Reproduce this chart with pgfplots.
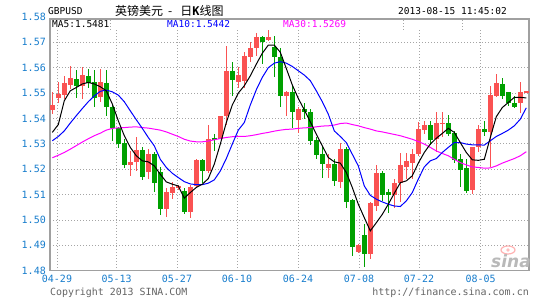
\documentclass[border=0pt]{standalone}
\usepackage{pgfplots}
\pgfplotsset{compat=1.18}
\usepackage{pgfplotstable}
\usepackage{fontspec}
\setmainfont{DejaVu Sans Mono}
\newfontfamily\cjk{Noto Sans CJK SC}
\newfontfamily\sinafont{DejaVu Sans}
\definecolor{upc}{RGB}{250,82,82}
\definecolor{dnc}{RGB}{0,160,0}
\definecolor{tickblue}{RGB}{22,124,204}
\definecolor{framegray}{RGB}{160,160,160}
\definecolor{gridgray}{RGB}{165,165,165}
\definecolor{txtgray}{RGB}{100,100,100}
\definecolor{ma10c}{RGB}{0,0,255}
\definecolor{ma30c}{RGB}{255,0,255}

% up (red) candles: index open high low close
\pgfplotstableread{
x o h l c
0 1.5434 1.5503 1.5417 1.5453
1 1.5479 1.5545 1.5461 1.5495
2 1.5492 1.5568 1.5476 1.5539
3 1.5533 1.5605 1.5518 1.5559
5 1.5529 1.5601 1.5476 1.5571
8 1.5483 1.5595 1.5466 1.5545
13 1.5216 1.5272 1.5174 1.5229
14 1.5229 1.5328 1.5193 1.5275
16 1.5189 1.5279 1.5163 1.5259
19 1.5042 1.5128 1.5012 1.5111
20 1.5105 1.5150 1.5082 1.5130
21 1.5126 1.5138 1.5118 1.5134
23 1.5033 1.5137 1.5008 1.5130
24 1.5134 1.5239 1.5128 1.5237
26 1.5193 1.5376 1.5184 1.5318
28 1.5321 1.5411 1.5318 1.5408
29 1.5408 1.5687 1.5376 1.5588
31 1.5542 1.5601 1.5522 1.5571
32 1.5549 1.5661 1.5522 1.5647
33 1.5641 1.5700 1.5621 1.5676
34 1.5676 1.5737 1.5647 1.5720
36 1.5711 1.5750 1.5707 1.5720
39 1.5489 1.5509 1.5411 1.5503
41 1.5395 1.5447 1.5342 1.5437
46 1.5204 1.5259 1.5167 1.5220
48 1.5150 1.5305 1.5128 1.5279
51 1.4874 1.4904 1.4871 1.4900
53 1.4864 1.5071 1.4845 1.5066
54 1.5055 1.5216 1.5036 1.5187
57 1.5099 1.5163 1.5049 1.5147
58 1.5145 1.5263 1.5071 1.5216
59 1.5209 1.5262 1.5161 1.5233
60 1.5224 1.5279 1.5161 1.5259
61 1.5259 1.5387 1.5253 1.5358
62 1.5355 1.5391 1.5338 1.5374
64 1.5318 1.5426 1.5266 1.5384
65 1.5380 1.5424 1.5325 1.5384
70 1.5118 1.5289 1.5101 1.5286
71 1.5286 1.5376 1.5266 1.5358
73 1.5347 1.5529 1.5207 1.5492
74 1.5489 1.5575 1.5483 1.5539
78 1.5463 1.5542 1.5421 1.5505
79 1.5503 1.5509 1.5503 1.5509
}\upcandles

% down (green) candles
\pgfplotstableread{
x o h l c
4 1.5555 1.5592 1.5482 1.5529
6 1.5566 1.5597 1.5522 1.5539
7 1.5545 1.5592 1.5446 1.5480
9 1.5539 1.5592 1.5411 1.5446
10 1.5446 1.5453 1.5312 1.5361
11 1.5361 1.5368 1.5282 1.5299
12 1.5303 1.5318 1.5204 1.5217
15 1.5275 1.5286 1.5157 1.5170
17 1.5259 1.5266 1.5111 1.5147
18 1.5189 1.5207 1.5018 1.5042
22 1.5113 1.5128 1.5022 1.5033
25 1.5237 1.5239 1.5145 1.5193
27 1.5322 1.5338 1.5272 1.5316
30 1.5588 1.5621 1.5489 1.5551
35 1.5720 1.5726 1.5614 1.5700
37 1.5680 1.5726 1.5562 1.5641
38 1.5641 1.5676 1.5447 1.5489
40 1.5503 1.5532 1.5364 1.5426
42 1.5437 1.5461 1.5397 1.5424
43 1.5424 1.5439 1.5295 1.5312
44 1.5316 1.5325 1.5239 1.5255
45 1.5259 1.5286 1.5167 1.5220
47 1.5220 1.5239 1.5134 1.5154
49 1.5279 1.5286 1.5049 1.5071
50 1.5078 1.5082 1.4858 1.4893
52 1.4940 1.4983 1.4816 1.4864
55 1.5184 1.5193 1.5075 1.5099
56 1.5111 1.5124 1.5029 1.5099
63 1.5374 1.5391 1.5295 1.5316
66 1.5384 1.5413 1.5332 1.5338
67 1.5341 1.5351 1.5224 1.5237
68 1.5239 1.5259 1.5128 1.5197
69 1.5204 1.5239 1.5108 1.5114
72 1.5358 1.5391 1.5332 1.5347
75 1.5536 1.5558 1.5476 1.5489
76 1.5505 1.5505 1.5450 1.5461
77 1.5463 1.5487 1.5443 1.5447
}\downcandles

% moving averages as drawn
\pgfplotstableread{
x ma5 ma10 ma30
0 1.5345 1.5312 1.5245
1 1.5376 1.5329 1.5255
2 1.5470 1.5351 1.5266
3 1.5509 1.5382 1.5279
4 1.5522 1.5411 1.5293
5 1.5536 1.5439 1.5307
6 1.5542 1.5466 1.5320
7 1.5536 1.5489 1.5332
8 1.5525 1.5507 1.5342
9 1.5509 1.5512 1.5354
10 1.5457 1.5505 1.5361
11 1.5391 1.5492 1.5363
12 1.5332 1.5466 1.5364
13 1.5286 1.5430 1.5366
14 1.5253 1.5395 1.5367
15 1.5233 1.5361 1.5364
16 1.5229 1.5325 1.5362
17 1.5213 1.5292 1.5358
18 1.5180 1.5239 1.5354
19 1.5150 1.5207 1.5347
20 1.5141 1.5184 1.5338
21 1.5134 1.5167 1.5329
22 1.5086 1.5151 1.5318
23 1.5108 1.5142 1.5311
24 1.5128 1.5139 1.5308
25 1.5141 1.5139 1.5308
26 1.5163 1.5145 1.5311
27 1.5220 1.5158 1.5316
28 1.5299 1.5193 1.5321
29 1.5384 1.5242 1.5325
30 1.5453 1.5299 1.5328
31 1.5500 1.5354 1.5329
32 1.5529 1.5384 1.5329
33 1.5568 1.5453 1.5332
34 1.5614 1.5513 1.5336
35 1.5657 1.5562 1.5341
36 1.5689 1.5600 1.5345
37 1.5689 1.5618 1.5350
38 1.5661 1.5624 1.5354
39 1.5597 1.5618 1.5357
40 1.5532 1.5605 1.5358
41 1.5479 1.5588 1.5361
42 1.5434 1.5571 1.5363
43 1.5387 1.5549 1.5364
44 1.5338 1.5509 1.5367
45 1.5292 1.5466 1.5370
46 1.5246 1.5417 1.5371
47 1.5229 1.5351 1.5374
48 1.5224 1.5329 1.5380
49 1.5187 1.5305 1.5382
50 1.5128 1.5259 1.5376
51 1.5062 1.5213 1.5371
52 1.5009 1.5134 1.5364
53 1.4957 1.5097 1.5358
54 1.4989 1.5082 1.5351
55 1.5022 1.5071 1.5347
56 1.5062 1.5062 1.5342
57 1.5105 1.5055 1.5337
58 1.5147 1.5053 1.5332
59 1.5154 1.5075 1.5325
60 1.5174 1.5108 1.5318
61 1.5224 1.5161 1.5309
62 1.5266 1.5209 1.5299
63 1.5299 1.5233 1.5286
64 1.5322 1.5242 1.5272
65 1.5341 1.5266 1.5262
66 1.5361 1.5286 1.5253
67 1.5345 1.5305 1.5239
68 1.5305 1.5305 1.5226
69 1.5266 1.5299 1.5217
70 1.5237 1.5296 1.5209
71 1.5235 1.5296 1.5207
72 1.5239 1.5295 1.5204
73 1.5325 1.5312 1.5205
74 1.5407 1.5329 1.5213
75 1.5443 1.5341 1.5224
76 1.5463 1.5354 1.5233
77 1.5483 1.5371 1.5242
78 1.5483 1.5397 1.5253
79 1.5481 1.5442 1.5269
}\matable

\begin{document}
\begin{tikzpicture}
\useasboundingbox (0,0) rectangle (545bp,300bp);
\tikzset{gridline/.style={gridgray, line width=0.8bp, dash pattern=on 1bp off 2bp}}
% vertical grid lines (stop below the MA legend row)
\foreach \gx in {57,116.7,177,237,298,359,419,480.7}
  \draw[gridline] (\gx bp,29.3bp) -- (\gx bp,270bp);
% separators in legend row
\foreach \gx in {110,403,462}
  \draw[gridline] (\gx bp,270bp) -- (\gx bp,281bp);
\begin{axis}[
  at={(50bp,29.3bp)}, anchor=south west,
  scale only axis, width=479bp, height=251.7bp,
  xmin=-0.383, xmax=79.45, ymin=1.48, ymax=1.5792,
  axis line style={framegray, line width=1.3bp},
  major tick length=0pt,
  ytick={1.48,1.49,1.50,1.51,1.52,1.53,1.54,1.55,1.56,1.57},
  yticklabels={1.48,1.49,1.50,1.51,1.52,1.53,1.54,1.55,1.56,1.57},
  xtick={0.78,10.73,20.78,30.78,40.95,51.12,61.12,71.4},
  xticklabels={04-29,05-13,05-27,06-10,06-24,07-08,07-22,08-05},
  ymajorgrids,
  major grid style={gridline},
  yticklabel style={font=\fontsize{10bp}{12bp}\selectfont, text=tickblue, inner sep=0pt, xshift=-4bp},
  xticklabel style={font=\fontsize{10bp}{12bp}\selectfont, text=tickblue, inner sep=0pt, yshift=-4.5bp},
  candle/.style={draw=none, mark=none, error bars/y dir=both, error bars/y explicit, error bars/error mark=none},
]
% wicks and bodies of up candles
\addplot[candle, error bars/error bar style={draw=upc, line width=1bp}]
  table[x=x, y expr={(\thisrow{h}+\thisrow{l})/2}, y error expr={(\thisrow{h}-\thisrow{l})/2}] {\upcandles};
\addplot[candle, error bars/error bar style={draw=upc, line width=4.8bp}]
  table[x=x, y expr={(\thisrow{o}+\thisrow{c})/2}, y error expr={abs(\thisrow{c}-\thisrow{o})/2}] {\upcandles};
% wicks and bodies of down candles
\addplot[candle, error bars/error bar style={draw=dnc, line width=1bp}]
  table[x=x, y expr={(\thisrow{h}+\thisrow{l})/2}, y error expr={(\thisrow{h}-\thisrow{l})/2}] {\downcandles};
\addplot[candle, error bars/error bar style={draw=dnc, line width=4.8bp}]
  table[x=x, y expr={(\thisrow{o}+\thisrow{c})/2}, y error expr={abs(\thisrow{c}-\thisrow{o})/2}] {\downcandles};
% moving averages
\addplot[ma30c, line width=1bp, mark=none, sharp plot] table[x=x, y=ma30] {\matable};
\addplot[ma10c, line width=1bp, mark=none, sharp plot] table[x=x, y=ma10] {\matable};
\addplot[black, line width=1bp, mark=none, sharp plot] table[x=x, y=ma5] {\matable};
\end{axis}
% 1.58 label above the frame
\node[anchor=east, inner sep=0pt, text=tickblue, font=\fontsize{10bp}{12bp}\selectfont] at (46bp,283.1bp) {1.58};
% header
\node[anchor=west, inner sep=0pt, font=\fontsize{9.5bp}{11bp}\selectfont] at (48bp,289bp) {GBPUSD};
\node[anchor=west, inner sep=0pt, font=\fontsize{12bp}{14bp}\selectfont] at (115bp,289bp) {{\cjk 英镑美元}\hspace{5bp}{\cjk -}\hspace{8bp}{\cjk 日}{\bfseries K}{\cjk 线图}};
\node[anchor=east, inner sep=0pt, font=\fontsize{9.5bp}{11bp}\selectfont] at (507bp,289bp) {2013-08-15 11:45:02};
% MA legend row
\node[anchor=west, inner sep=0pt, font=\fontsize{9.5bp}{11bp}\selectfont] at (52bp,275.5bp) {MA5:1.5481};
\node[anchor=west, inner sep=0pt, text=ma10c, font=\fontsize{9.5bp}{11bp}\selectfont] at (167bp,275.5bp) {MA10:1.5442};
\node[anchor=west, inner sep=0pt, text=ma30c, font=\fontsize{9.5bp}{11bp}\selectfont] at (283bp,275.5bp) {MA30:1.5269};
% footer
\node[anchor=west, inner sep=0pt, text=txtgray, font=\fontsize{9.9bp}{11bp}\selectfont] at (50bp,7.5bp) {Copyright 2013 SINA.COM};
\node[anchor=east, inner sep=0pt, text=txtgray, font=\fontsize{10bp}{11bp}\selectfont] at (529bp,7.5bp) {http://finance.sina.com.cn};
% watermark
\draw[red!30, line width=1.2bp] (508bp,50bp) ellipse (7bp and 4bp);
\fill[red!25] (508bp,50bp) circle (1.8bp);
\node[anchor=center, inner sep=0pt, text=gray!55, font=\sinafont\bfseries\itshape\fontsize{17bp}{18bp}\selectfont] at (511bp,39bp) {sina};
\end{tikzpicture}
\end{document}
